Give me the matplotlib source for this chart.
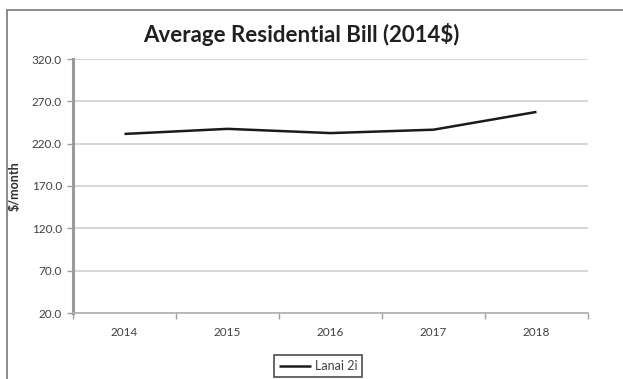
import matplotlib
matplotlib.use("Agg")
import matplotlib.pyplot as plt
from matplotlib.lines import Line2D
import numpy as np

years = ["2014", "2015", "2016", "2017", "2018"]
bill = [231.5, 237.5, 232.5, 236.5, 257.5]
series_name = "Lanai 2i"
y_ticks = [20.0, 70.0, 120.0, 170.0, 220.0, 270.0, 320.0]

plt.rcParams["font.family"] = ["Lato", "DejaVu Sans"]

fig = plt.figure(figsize=(6.23, 3.79), dpi=100)
ax = fig.add_axes([73 / 623, 1 - 313 / 379, 515 / 623, 254 / 379])

x = np.arange(len(years))
ax.plot(x, bill, color="#1a1a1a", lw=1.8, label=series_name, solid_capstyle="butt")

ax.set_xlim(-0.5, len(years) - 0.5)
ax.set_ylim(y_ticks[0], y_ticks[-1])
ax.set_yticks(y_ticks)
ax.set_yticklabels([f"{v:.1f}" for v in y_ticks])
ax.set_xticks(x)
ax.set_xticklabels(years)
ax.set_xticks(np.arange(-0.5, len(years)), minor=True)

ax.tick_params(axis="x", which="major", length=0, pad=10, labelsize=8.5, labelcolor="#404040")
ax.tick_params(axis="x", which="minor", length=4, color="#a0a0a0", width=1)
ax.tick_params(axis="y", length=4, color="#a0a0a0", width=1, pad=4, labelsize=8.5, labelcolor="#404040")

ax.grid(axis="y", color="#d0d0d0", lw=1.2)
ax.set_axisbelow(True)
for side in ("top", "right"):
    ax.spines[side].set_visible(False)
ax.spines["left"].set_color("#9a9a9a")
ax.spines["left"].set_linewidth(2.2)
ax.spines["bottom"].set_color("#b0b0b0")
ax.spines["bottom"].set_linewidth(1.2)

ax.set_ylabel("$/month", fontsize=9, fontweight="bold", color="#303030")
ax.yaxis.set_label_coords(-0.101, 0.5)

fig.text(0.484, 1 - 35 / 379, "Average Residential Bill (2014$)", ha="center", va="center",
         fontsize=16, fontweight="bold", color="#202020")

leg = fig.legend(loc="center", bbox_to_anchor=(318 / 623, 1 - 366 / 379), fontsize=9,
                 frameon=True, fancybox=False, handlelength=2.6, handletextpad=0.3,
                 borderpad=0.4, labelcolor="#404040")
leg.get_frame().set_edgecolor("#202020")
leg.get_frame().set_linewidth(1.2)

# outer chart frame
fig.add_artist(Line2D([7 / 623, 7 / 623], [0, 1 - 10 / 379], transform=fig.transFigure,
                      color="#8a8a8a", lw=1.4))
fig.add_artist(Line2D([7 / 623, 1], [1 - 10 / 379, 1 - 10 / 379], transform=fig.transFigure,
                      color="#8a8a8a", lw=1.4))

fig.savefig("out.png", dpi=100)
